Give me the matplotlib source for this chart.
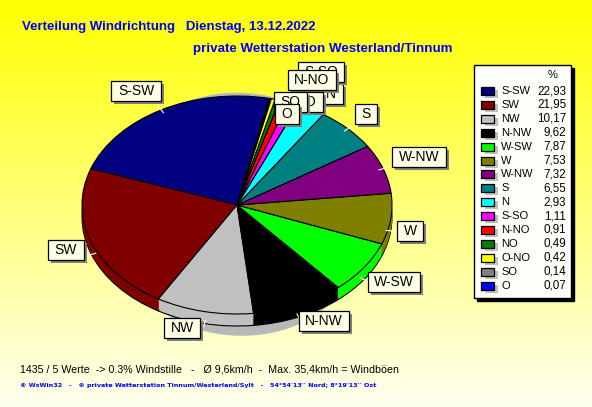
#-*- encoding:utf-8 -*-
import numpy as np
import matplotlib
matplotlib.use('Agg')
import matplotlib.pyplot as plt
from matplotlib.colors import LinearSegmentedColormap
from matplotlib.patches import Rectangle

# legend order, the pie runs through it counter clockwise
directions = ['S-SW', 'SW', 'NW', 'N-NW', 'W-SW', 'W', 'W-NW', 'S', 'N',
              'S-SO', 'N-NO', 'NO', 'O-NO', 'SO', 'O']
percent = [22.93, 21.95, 10.17, 9.62, 7.87, 7.53, 7.32, 6.55, 2.93,
           1.11, 0.91, 0.49, 0.42, 0.14, 0.07]
percent_text = ['22,93', '21,95', '10,17', '9,62', '7,87', '7,53', '7,32', '6,55',
                '2,93', '1,11', '0,91', '0,49', '0,42', '0,14', '0,07']
colors = ['#000080', '#800000', '#C0C0C0', '#000000', '#00FF00', '#808000', '#800080',
          '#008080', '#00FFFF', '#FF00FF', '#FF0000', '#008000', '#FFFF00', '#808080',
          '#0000FF']

# label centers in pixels, later ones lie on top
label_pos = [('S-SW', 136, 91), ('SW', 66, 250), ('NW', 182, 328), ('N-NW', 324, 321),
             ('W-SW', 394, 282), ('W', 410, 231), ('W-NW', 419, 157), ('S', 366, 114),
             ('N', 331, 94), ('S-SO', 321, 72), ('N-NO', 312, 80), ('NO', 306, 102),
             ('SO', 290, 102), ('O', 287, 114)]

W, H = 592, 407
fig = plt.figure(figsize=(W / 100, H / 100), dpi=100)

# background and everything else in pixel coordinates
bg = fig.add_axes([0, 0, 1, 1])
bg.set_xlim(0, W)
bg.set_ylim(H, 0)
bg.axis('off')
cmap = LinearSegmentedColormap.from_list('bg', ['#FFFF00', '#FFFFF0'])
bg.imshow(np.linspace(0, 1, 256).reshape(-1, 1), cmap=cmap, aspect='auto',
          extent=(0, W, H, 0), zorder=0)

bg.text(22, 27, 'Verteilung Windrichtung   Dienstag, 13.12.2022', color='#0000FF',
        family='Liberation Sans', weight='bold', size=9.55, va='center')
bg.text(193, 49, 'private Wetterstation Westerland/Tinnum', color='#0000FF',
        family='Liberation Sans', weight='bold', size=9.65, va='center')
bg.text(20, 369, '1435 / 5 Werte  -> 0.3% Windstille   -   \u00d8 9,6km/h  -  Max. 35,4km/h = Windb\u00f6en',
        color='black', family='Liberation Sans', size=7.7, va='center')
bg.text(20, 386, '\u00a9 WsWin32   -   \u00a9 private Wetterstation Tinnum/Westerland/Sylt   -   54\u00b054\'13\'\' Nord; 8\u00b019\'13\'\' Ost',
        color='#0000FF', family='DejaVu Sans', weight='bold', size=4.56, va='center')

# pie axes, one unit is the ellipse radius
cx, cy, rx, ry = 237, 205, 155, 109
depth = 12
ax = fig.add_axes([(cx - rx) / W, 1 - (cy + ry) / H, 2 * rx / W, 2 * ry / H])
ax.patch.set_visible(False)

start = 78


def draw_pie(offset, cols, edge, zorder):
    ax.pie(percent, colors=cols, startangle=start, radius=1, center=(0, -offset / ry),
           wedgeprops={'edgecolor': edge, 'linewidth': 0.8, 'clip_on': False, 'zorder': zorder})


# grey shadow, only shows below and above the pie
ax.pie([1], colors=['#B8B8B8'], radius=0.7, center=(0.03, -0.5),
       wedgeprops={'clip_on': False, 'linewidth': 0})
ax.pie([1], colors=['#B8B8B8'], radius=0.7, center=(0, 0.33),
       wedgeprops={'clip_on': False, 'linewidth': 0})
draw_pie(depth, colors, 'black', 2)
for off in range(depth - 1, 0, -1):
    draw_pie(off, colors, 'none', 3)
draw_pie(0, colors, 'black', 4)
ax.set_aspect('auto')

# short white leader lines at the rim
angle = start
for p in percent:
    mid = np.radians(angle + p * 3.6 / 2)
    angle += p * 3.6
    if p > 2:
        low = depth / ry if np.sin(mid) < 0 else 0
        ax.plot([0.97 * np.cos(mid), 1.03 * np.cos(mid)],
                [0.97 * np.sin(mid) - low, 1.03 * np.sin(mid) - low],
                color='white', lw=0.8, zorder=5, clip_on=False)
ax.set_xlim(-1, 1)
ax.set_ylim(-1, 1)

# overlay for labels and legend
top = fig.add_axes([0, 0, 1, 1])
top.set_xlim(0, W)
top.set_ylim(H, 0)
top.axis('off')
top.patch.set_visible(False)

renderer = fig.canvas.get_renderer()
box_h = 20
for i, (name, x, y) in enumerate(label_pos):
    z = 10 + 3 * i
    t = top.text(x, y, name, family='Liberation Sans', size=10, color='black',
                 ha='center', va='center', zorder=z + 2)
    box_w = t.get_window_extent(renderer).width + 13
    top.add_patch(Rectangle((x - box_w / 2 + 3, y - box_h / 2 + 3), box_w, box_h,
                            fc='#808080', ec='none', zorder=z))
    top.add_patch(Rectangle((x - box_w / 2, y - box_h / 2), box_w, box_h,
                            fc='#FFFFE6', ec='black', lw=0.9, zorder=z + 1))

# legend box with black shadow
lx0, ly0, lx1, ly1 = 474, 65, 571, 298
top.add_patch(Rectangle((lx0 + 3, ly0 + 3), lx1 - lx0, ly1 - ly0, fc='black', ec='black', zorder=80))
top.add_patch(Rectangle((lx0, ly0), lx1 - lx0, ly1 - ly0, fc='#FFFFFA', ec='black', lw=1, zorder=81))
top.text(553, 75, '%', family='Liberation Sans', size=8, ha='center', va='center', zorder=82)
for i, name in enumerate(directions):
    y = 91 + i * 13.9
    top.add_patch(Rectangle((485, y - 1), 13, 8, fc='#C0C0C0', ec='none', zorder=82))
    top.add_patch(Rectangle((481, y - 4), 13, 8, fc=colors[i], ec='black', lw=0.9, zorder=83))
    top.text(501, y, name, family='Liberation Sans', size=8, va='center', zorder=83)
    top.text(566, y, percent_text[i], family='Liberation Sans', size=8.4, ha='right', va='center', zorder=83)

fig.savefig('out.png', dpi=100)
